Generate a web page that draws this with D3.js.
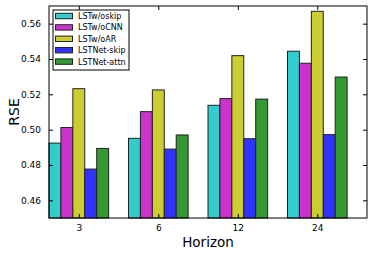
<!DOCTYPE html>
<html>
<head>
<meta charset="utf-8">
<script src="https://cdnjs.cloudflare.com/ajax/libs/d3/7.8.5/d3.min.js"></script>
<style>
  body { margin: 0; background: #fff; }
  text { font-family: "DejaVu Sans", sans-serif; }
</style>
</head>
<body>
<div id="vis"></div>
<script>
var horizons = ["3", "6", "12", "24"];
var series = ["LSTw/oskip", "LSTw/oCNN", "LSTw/oAR", "LSTNet-skip", "LSTNet-attn"];
var colors = ["#33cccc", "#cc33cc", "#cccc33", "#3333ff", "#339933"];
var noSkip = [0.4924, 0.4951, 0.5138, 0.5444];
var noCNN  = [0.5012, 0.5102, 0.5176, 0.5376];
var noAR   = [0.5232, 0.5225, 0.5419, 0.5670];
var skip   = [0.4777, 0.4890, 0.4949, 0.4972];
var attn   = [0.4894, 0.4970, 0.5173, 0.5298];
var yTicks = [0.46, 0.48, 0.50, 0.52, 0.54, 0.56];

var vals = [noSkip, noCNN, noAR, skip, attn];
var W = 374, H = 256;
// note: "top" is taken by window.top, so prefix plot edges
var pL = 49, pR = 367, pT = 6, pB = 218;
var bw = 0.15;

var svg = d3.select("#vis").append("svg").attr("width", W).attr("height", H);

var x = d3.scaleLinear().domain([0, 4]).range([pL, pR]);
var y = d3.scaleLinear().domain([0.45, 0.57]).range([pB, pT]);

// bars
vals.forEach(function(arr, k) {
  svg.selectAll("rect.s" + k).data(arr).enter().append("rect")
    .attr("class", "s" + k)
    .attr("x", function(d, i) { return x(i + k * bw); })
    .attr("y", function(d) { return y(d); })
    .attr("width", x(bw) - x(0))
    .attr("height", function(d) { return pB - y(d); })
    .attr("fill", colors[k])
    .attr("stroke", "#222")
    .attr("stroke-width", 1);
});

// axes (ticks inward, all four sides)
var tickX = horizons.map(function(h, i) { return i + 2.5 * bw; });
svg.append("g").attr("transform", "translate(0," + pB + ")")
  .call(d3.axisBottom(x).tickValues(tickX).tickSizeInner(-4).tickSizeOuter(0).tickPadding(7)
    .tickFormat(function(d, i) { return horizons[i]; }));
svg.append("g").attr("transform", "translate(0," + pT + ")")
  .call(d3.axisTop(x).tickValues(tickX).tickSizeInner(-4).tickSizeOuter(0).tickFormat(""));
svg.append("g").attr("transform", "translate(" + pL + ",0)")
  .call(d3.axisLeft(y).tickValues(yTicks).tickSizeInner(-4).tickSizeOuter(0).tickPadding(8)
    .tickFormat(d3.format(".2f")));
svg.append("g").attr("transform", "translate(" + pR + ",0)")
  .call(d3.axisRight(y).tickValues(yTicks).tickSizeInner(-4).tickSizeOuter(0).tickFormat(""));

svg.selectAll(".domain").remove();
svg.selectAll(".tick line").attr("stroke", "#000");
svg.selectAll(".tick text").attr("font-size", 9).attr("fill", "#000")
  .attr("font-family", "DejaVu Sans");

svg.append("rect").attr("x", pL).attr("y", pT)
  .attr("width", pR - pL).attr("height", pB - pT)
  .attr("fill", "none").attr("stroke", "#000").attr("stroke-width", 1);

// labels
svg.append("text").attr("x", (pL + pR) / 2).attr("y", 247)
  .attr("text-anchor", "middle").attr("font-size", 13.5).text("Horizon");
svg.append("text").attr("transform", "translate(19," + (pT + pB) / 2 + ") rotate(-90)")
  .attr("text-anchor", "middle").attr("font-size", 14).text("RSE");

// legend
var lg = svg.append("g").attr("transform", "translate(53,10)");
lg.append("rect").attr("width", 76).attr("height", 60)
  .attr("fill", "#fff").attr("stroke", "#000").attr("stroke-width", 1);
var item = lg.selectAll("g.item").data(series).enter().append("g")
  .attr("transform", function(d, i) { return "translate(0," + (6 + i * 11.4) + ")"; });
item.append("rect").attr("x", 2.5).attr("y", -2.7).attr("width", 17).attr("height", 5.4)
  .attr("fill", function(d, i) { return colors[i]; })
  .attr("stroke", "#222").attr("stroke-width", 1);
item.append("text").attr("x", 25).attr("y", 3).attr("font-size", 8).text(function(d) { return d; });
</script>
</body>
</html>
